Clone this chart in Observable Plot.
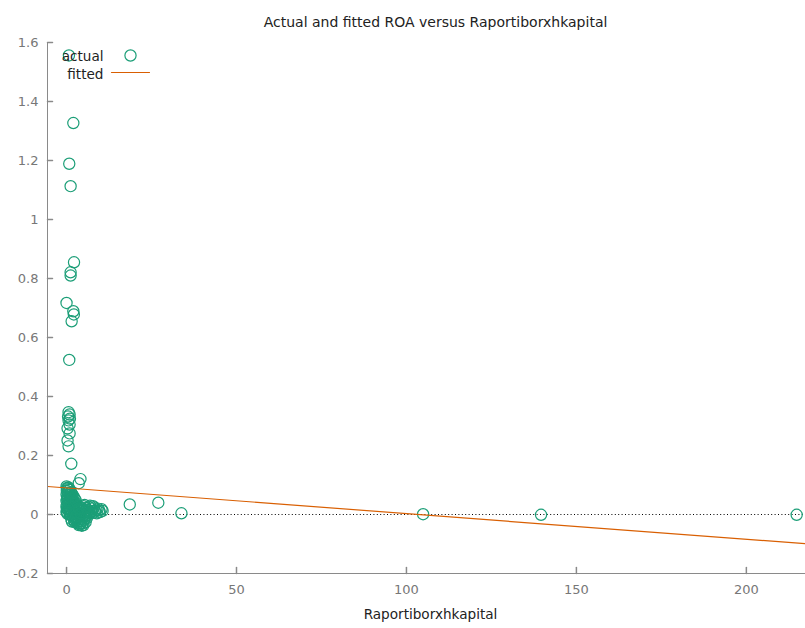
<!DOCTYPE html>
<html>
<head>
<meta charset="utf-8">
<script src="https://cdn.jsdelivr.net/npm/d3@7"></script>
<script src="https://cdn.jsdelivr.net/npm/@observablehq/plot@0.6"></script>
<style>
  html, body { margin: 0; padding: 0; background: #fff; }
  #chart svg { display: block; }
</style>
</head>
<body>
<div id="chart"></div>
<script>
// Observed Raportiborxhkapital (x) and ROA (y), one entry per bank-year
const ratio = [
  0.7, 2.0, 0.8, 1.2, 2.2, 1.2, 1.2, 0.0, 2.0, 2.15, 1.5, 0.8,
  0.6, 0.9, 0.45, 1.0, 0.6, 0.9, 0.3, 0.9, 0.3, 0.6, 1.4,
  4.1, 3.6,
  0.0, 0.3, 0.6, 0.1, 0.9, 0.4, 1.3, 0.0, 0.8, 1.6, 0.2, 1.1, 2.0, 0.5, 1.5, 0.0, 2.4, 0.9,
  1.9, 0.3, 1.3, 2.6, 0.0, 0.8, 1.8, 2.9, 0.4, 1.2, 2.2, 0.0, 0.9, 1.7, 2.6, 0.3, 1.3, 2.2,
  0.2, 0.7, 1.0, 0.5, 1.4, 0.2, 1.0, 1.7, 0.6, 1.6, 2.2, 0.1, 1.0, 2.0, 2.9, 0.6, 1.4, 0.1,
  1.0, 2.5, 3.2, 2.7,
  3.4, 4.2, 5.0, 5.8, 6.6, 7.3, 8.1, 8.8, 9.6, 10.3, 4.6, 5.5, 6.4, 7.2, 8.0, 8.9, 9.8, 3.8,
  6.9, 5.3, 10.6,
  7.6, 8.4, 9.2, 7.8, 5.9, 4.8, 6.4, 6.8, 6.2,
  2.0, 2.8, 3.6, 4.4, 5.2, 3.2, 4.0, 4.8, 5.6, 2.4, 3.9, 5.0, 6.0, 1.6, 4.5,
  2.5, 3.0, 3.8, 4.6, 5.4, 4.2, 3.6, 5.0, 2.2, 3.3, 1.4,
  3.0, 3.5, 2.8, 4.2, 3.6,
  18.6, 27.0, 33.8, 104.9, 139.6, 214.8
];
const roa = [
  1.556, 1.327, 1.189, 1.113, 0.855, 0.821, 0.810, 0.717, 0.689, 0.678, 0.655, 0.524,
  0.347, 0.339, 0.332, 0.325, 0.319, 0.305, 0.292, 0.275, 0.251, 0.231, 0.172,
  0.120, 0.106,
  0.095, 0.088, 0.092, 0.080, 0.083, 0.074, 0.076, 0.068, 0.066, 0.070, 0.060, 0.058, 0.062, 0.052, 0.050, 0.046, 0.054, 0.042,
  0.044, 0.036, 0.034, 0.040, 0.028, 0.026, 0.028, 0.032, 0.018, 0.016, 0.020, 0.010, 0.008, 0.006, 0.012, 0.002, -0.002, 0.000,
  0.090, 0.086, 0.072, 0.064, 0.062, 0.050, 0.048, 0.054, 0.038, 0.038, 0.036, 0.022, 0.020, 0.014, 0.018, 0.012, 0.010, 0.006,
  0.000, 0.004, 0.024, 0.048,
  0.030, 0.024, 0.028, 0.022, 0.026, 0.020, 0.024, 0.016, 0.014, 0.018, 0.012, 0.010, 0.014, 0.008, 0.006, 0.004, 0.008, 0.016,
  0.030, 0.032, 0.012,
  0.012, 0.010, 0.020, 0.028, 0.016, 0.020, 0.006, 0.004, -0.002,
  -0.012, -0.020, -0.016, -0.024, -0.018, -0.030, -0.034, -0.030, -0.026, -0.026, -0.008, -0.006, -0.012, -0.024, -0.038,
  -0.010, -0.014, -0.022, -0.014, -0.008, -0.030, -0.036, -0.036, -0.020, -0.024, -0.016,
  0.008, 0.000, -0.006, 0.004, 0.020,
  0.034, 0.040, 0.004, 0.001, -0.001, -0.001
];

// OLS fit of ROA on Raportiborxhkapital
const intercept = 0.0900;
const slope = -0.00087;

const xDomain = [-5.6, 217.4];
const yDomain = [-0.2, 1.6];
const xTicks = [0, 50, 100, 150, 200];
const yTicks = [-0.2, 0, 0.2, 0.4, 0.6, 0.8, 1, 1.2, 1.4, 1.6];

const titleText = "Actual and fitted ROA versus Raportiborxhkapital";
const xLabel = "Raportiborxhkapital";
const seriesNames = ["actual", "fitted"];

const green = "#1b9e77";
const orange = "#d95f02";
const axisGray = "#8a8a8a";

const points = ratio.map((x, i) => ({x, y: roa[i]}));
const fitted = xDomain.map(x => ({x, y: intercept + slope * x}));

// straight stroke used for inward ticks and the legend swatch
const stroke = {draw(context, l) { context.moveTo(0, 0); context.lineTo(0, -l); }};
const fmt = d => String(+d.toFixed(1));

const chart = Plot.plot({
  width: 805,
  height: 628,
  marginLeft: 47,
  marginRight: 0,
  marginTop: 42,
  marginBottom: 55,
  style: {fontFamily: "DejaVu Sans, sans-serif", fontSize: "13px", background: "#fff"},
  x: {domain: xDomain},
  y: {domain: yDomain},
  marks: [
    Plot.ruleY([0], {stroke: "#000", strokeWidth: 1, strokeDasharray: "1,2.4"}),
    Plot.dot(points, {x: "x", y: "y", r: 5.6, stroke: green, strokeWidth: 1.2, fill: "none"}),
    Plot.line(fitted, {x: "x", y: "y", stroke: orange, strokeWidth: 1.2}),
    // border: left and bottom only
    Plot.ruleX([xDomain[0]], {stroke: axisGray, strokeWidth: 1}),
    Plot.ruleY([yDomain[0]], {stroke: axisGray, strokeWidth: 1}),
    // inward tick marks
    Plot.vector(yTicks, {y: d => d, frameAnchor: "left", rotate: 90, length: 5, anchor: "start", shape: stroke, stroke: axisGray}),
    Plot.vector(xTicks, {x: d => d, frameAnchor: "bottom", rotate: 0, length: 6, anchor: "start", shape: stroke, stroke: axisGray}),
    Plot.axisY({ticks: yTicks, tickSize: 0, tickPadding: 9, tickFormat: fmt, color: "#777", fontSize: 13, label: null}),
    Plot.axisX({ticks: xTicks, tickSize: 0, tickPadding: 11, tickFormat: fmt, color: "#777", fontSize: 13, label: null}),
    // title and axis label
    Plot.text([titleText], {frameAnchor: "top", dx: 9, dy: -25, fontSize: 14, fill: "#222"}),
    Plot.text([xLabel], {frameAnchor: "bottom", dx: 4, dy: 45, fontSize: 13.6, fill: "#222"}),
    // key
    Plot.text([seriesNames[0]], {frameAnchor: "top-left", dx: 56, dy: 9, textAnchor: "end", fontSize: 13.6, fill: "#222"}),
    Plot.dot([0], {frameAnchor: "top-left", dx: 83, dy: 13, r: 5.6, stroke: green, strokeWidth: 1.2, fill: "none"}),
    Plot.text([seriesNames[1]], {frameAnchor: "top-left", dx: 56, dy: 27, textAnchor: "end", fontSize: 13.6, fill: "#222"}),
    Plot.vector([0], {frameAnchor: "top-left", dx: 64, dy: 30, rotate: 90, length: 38, anchor: "start", shape: stroke, stroke: orange, strokeWidth: 1.2})
  ]
});

document.getElementById("chart").appendChild(chart);
</script>
</body>
</html>
